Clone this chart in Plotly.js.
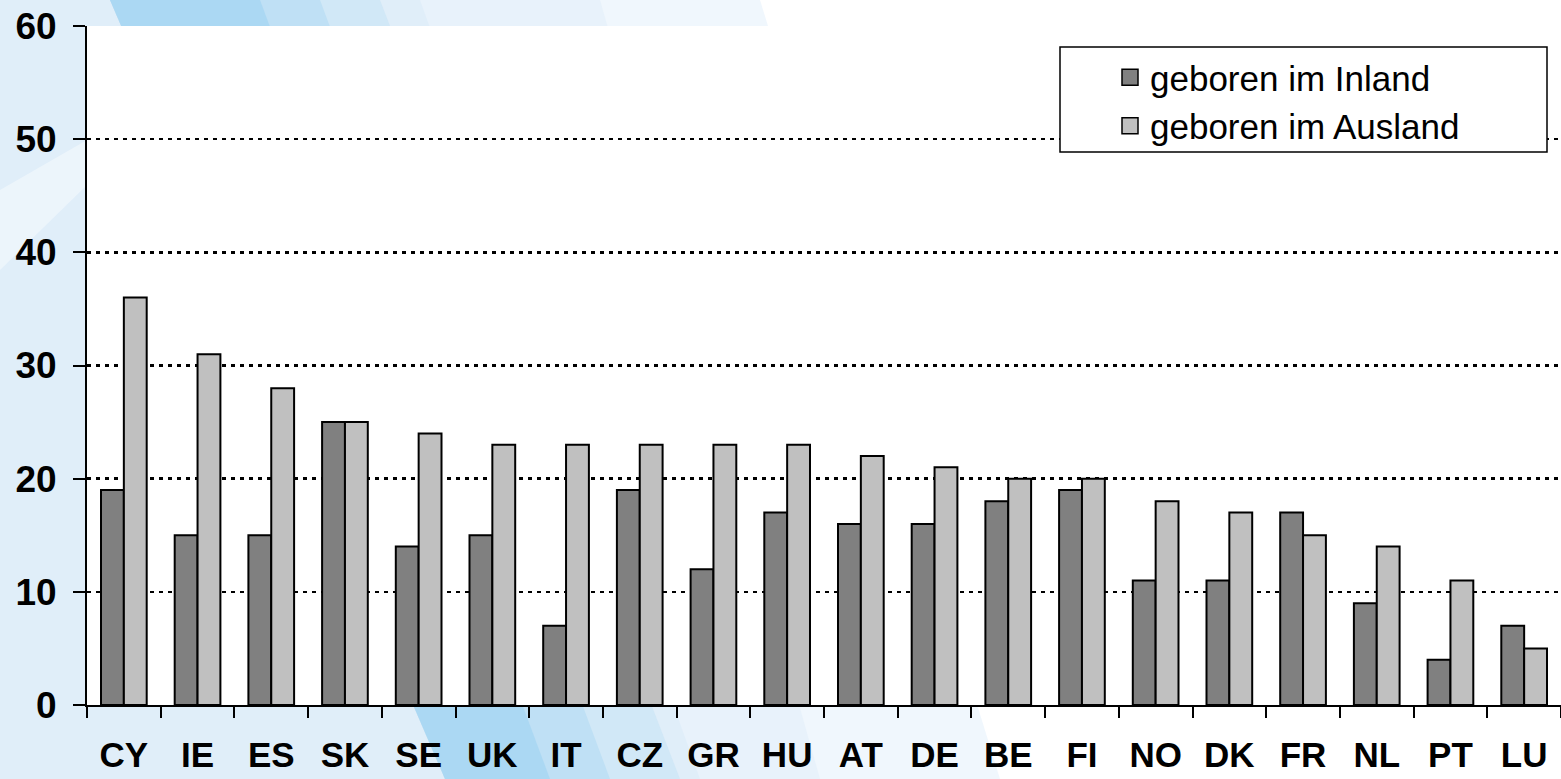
<!DOCTYPE html>
<html>
<head>
<meta charset="utf-8">
<script src="https://cdn.plot.ly/plotly-3.0.1.min.js"></script>
<style>
  html, body { margin: 0; padding: 0; background: #ffffff; }
  #chart { width: 1561px; height: 779px; }
</style>
</head>
<body>
<div id="chart"></div>
<script>
// ---- data ----
const countries = ["CY","IE","ES","SK","SE","UK","IT","CZ","GR","HU","AT","DE","BE","FI","NO","DK","FR","NL","PT","LU"];
const bornDomestic = [19,15,15,25,14,15,7,19,12,17,16,16,18,19,11,11,17,9,4,7];
const bornAbroad   = [36,31,28,25,24,23,23,23,23,23,22,21,20,20,18,17,15,14,11,5];
const seriesNames = ["geboren im Inland","geboren im Ausland"];
const yTickVals = [0,10,20,30,40,50,60];

// ---- layout geometry (pixels) ----
const W = 1561, H = 779;
const M = {l: 87, r: 0, t: 26, b: 74};
const plotW = W - M.l - M.r, plotH = H - M.t - M.b;
const px = x => (x - M.l) / plotW;
const py = y => (H - M.b - y) / plotH;
const poly = pts => 'M' + pts.map(p => px(p[0]) + ',' + py(p[1])).join('L') + 'Z';

const darkCol = '#808080', lightCol = '#c0c0c0';
const fontFam = '"Liberation Sans", Arial, Helvetica, sans-serif';

const traces = [
  {type: 'bar', x: countries, y: bornDomestic, name: seriesNames[0], showlegend: false,
   marker: {color: darkCol, line: {color: '#000', width: 2}}},
  {type: 'bar', x: countries, y: bornAbroad, name: seriesNames[1], showlegend: false,
   marker: {color: lightCol, line: {color: '#000', width: 2}}},
  // legend entries (square swatches)
  {type: 'scatter', mode: 'markers', x: [null], y: [null], name: seriesNames[0],
   marker: {symbol: 'square', size: 18, color: darkCol, line: {color: '#000', width: 1.5}}},
  {type: 'scatter', mode: 'markers', x: [null], y: [null], name: seriesNames[1],
   marker: {symbol: 'square', size: 18, color: lightCol, line: {color: '#000', width: 1.5}}}
];

const bgShapes = [
  // pale blue wash on the left (layered to fake a gradient)
  {type: 'path', xref: 'paper', yref: 'paper', layer: 'below', path: poly([[0,0],[760,0],[1000,779],[0,779]]),
   fillcolor: '#e6f1fb', opacity: 0.6, line: {width: 0}},
  {type: 'path', xref: 'paper', yref: 'paper', layer: 'below', path: poly([[0,0],[600,0],[820,779],[0,779]]),
   fillcolor: '#e0eefa', opacity: 0.5, line: {width: 0}},
  {type: 'path', xref: 'paper', yref: 'paper', layer: 'below', path: poly([[0,0],[420,0],[700,779],[0,779]]),
   fillcolor: '#dbebf8', opacity: 0.6, line: {width: 0}},
  // bright blue band
  {type: 'path', xref: 'paper', yref: 'paper', layer: 'below', path: poly([[110,0],[380,0],[680,779],[445,779]]),
   fillcolor: '#c2e2f6', opacity: 0.5, line: {width: 0}},
  {type: 'path', xref: 'paper', yref: 'paper', layer: 'below', path: poly([[110,0],[320,0],[610,779],[445,779]]),
   fillcolor: '#b2daf3', opacity: 0.6, line: {width: 0}},
  {type: 'path', xref: 'paper', yref: 'paper', layer: 'below', path: poly([[110,0],[260,0],[550,779],[445,779]]),
   fillcolor: '#a3d4f2', opacity: 0.7, line: {width: 0}},
  // light streak on the left
  {type: 'path', xref: 'paper', yref: 'paper', layer: 'below', path: poly([[0,190],[87,140],[87,185],[0,270]]),
   fillcolor: '#ffffff', opacity: 0.4, line: {width: 0}},
  // white plot area
  {type: 'rect', xref: 'paper', yref: 'paper', layer: 'below', x0: 0, x1: 1, y0: 0, y1: 1,
   fillcolor: '#ffffff', line: {width: 0}},
  // legend box
  {type: 'rect', xref: 'paper', yref: 'paper', layer: 'above', x0: px(1060), x1: px(1547), y0: py(152), y1: py(47),
   fillcolor: '#ffffff', line: {color: '#000', width: 1.5}}
];

const layout = {
  width: W, height: H,
  margin: M,
  paper_bgcolor: '#ffffff',
  plot_bgcolor: 'rgba(0,0,0,0)',
  font: {family: fontFam, color: '#000'},
  barmode: 'group',
  bargap: 0.38,
  bargroupgap: 0,
  showlegend: true,
  legend: {
    x: px(1110), xanchor: 'left', y: py(48), yanchor: 'top',
    bgcolor: 'rgba(0,0,0,0)', borderwidth: 0,
    font: {family: fontFam, size: 35, color: '#000'},
    itemwidth: 30, tracegroupgap: 0
  },
  xaxis: {
    type: 'category',
    showline: true, linecolor: '#000', linewidth: 2,
    ticks: 'outside', tickson: 'boundaries', ticklen: 11, tickwidth: 2, tickcolor: '#000',
    tickfont: {family: fontFam, size: 35, color: '#000', weight: 'bold'},
    ticklabelstandoff: 18,
    showgrid: false, zeroline: false, fixedrange: true
  },
  yaxis: {
    range: [0, 60], tickvals: yTickVals,
    showline: true, linecolor: '#000', linewidth: 2,
    ticks: 'outside', ticklen: 12, tickwidth: 2, tickcolor: '#000',
    tickfont: {family: fontFam, size: 37, color: '#000', weight: 'bold'},
    ticklabelstandoff: 9,
    showgrid: true, gridcolor: '#000', gridwidth: 2.5, griddash: '4px,5px',
    zeroline: false, fixedrange: true
  },
  shapes: bgShapes
};

Plotly.newPlot('chart', traces, layout, {displayModeBar: false, staticPlot: true});
</script>
</body>
</html>
